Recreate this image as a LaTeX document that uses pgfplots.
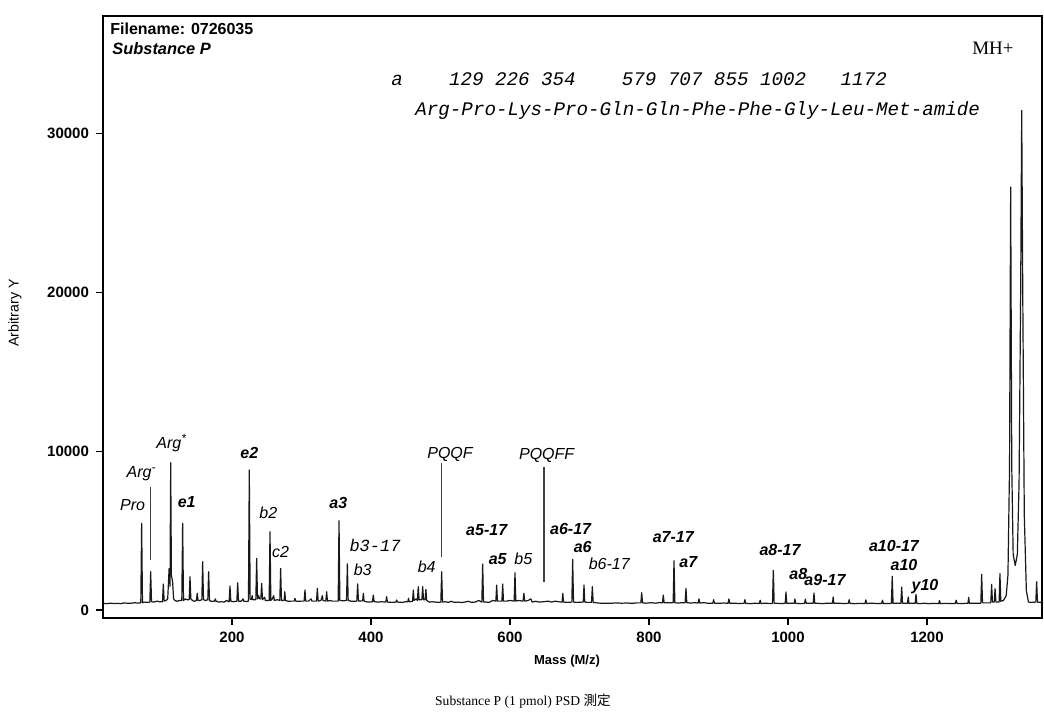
\documentclass[border=0pt]{standalone}
\usepackage{fontspec}
\setmainfont{Liberation Sans}
\newfontfamily\serif{Liberation Serif}
\newfontfamily\mono{Liberation Mono}
\newfontfamily\cjk{Noto Sans CJK JP}
\usepackage{pgfplots}
\pgfplotsset{compat=1.18}
\newcommand\fs[1]{\fontsize{#1}{#1}\selectfont}
\tikzset{
  lab/.style={font=\fs{8}\itshape, inner sep=0pt},
  labb/.style={font=\fs{8}\bfseries\itshape, inner sep=0pt},
  labm/.style={font=\mono\fs{8.5}\itshape, inner sep=0pt},
  lead/.style={black!75, line width=0.55pt}
}
\begin{document}
\begin{tikzpicture}
\begin{axis}[
  at={(51.5pt,-309pt)}, anchor=south west,
  width=469.5pt, height=301pt, scale only axis,
  xmin=14.4, xmax=1365.5, ymin=-503, ymax=37380,
  xtick={200,400,600,800,1000,1200},
  ytick={0,10000,20000,30000},
  scaled y ticks=false,
  tick align=outside, tick pos=left,
  major tick length=3.5pt,
  axis line style={line width=0.8pt},
  tick style={line width=0.6pt, black},
  /pgf/number format/1000 sep={},
  /pgf/number format/assume math mode=true,
  ticklabel style={font=\bfseries\fs{7.5}},
  clip=false,
]
\addplot[black!90, line width=0.6pt, line join=round] coordinates {
(15,420)(20,400)(25,430)(30,410)(35,420)(40,400)(45,450)(50,420)(55,430)(60,460)(64,440)(68.8,450)(70,5460)(71.2,460)(74,500)(78,480)(81.8,500)(83,2410)(84.2,520)(88,500)(92,560)(96,520)(100,520)(101.2,1640)(102.4,560)(105,600)(107.5,700)(109.5,2600)(110.8,1500)(111.8,9270)(112.8,2200)(114.5,1800)(116,700)(118,600)(121,550)(124,600)(127.8,600)(129,5460)(130.2,600)(133,700)(135,650)(138.4,650)(139.6,2100)(140.8,700)(143,600)(146,550)(148.8,600)(150,1050)(151.2,600)(154,600)(156.6,650)(157.8,3040)(159,650)(162,600)(165.2,650)(166.4,2410)(167.6,600)(170,550)(174.8,550)(176,700)(177.2,550)(181,500)(185,520)(189,500)(192,600)(195.9,520)(197.1,1510)(198.3,560)(202,520)(207,560)(208.2,1720)(209.4,550)(213,550)(216,700)(217,550)(221,540)(223.7,560)(224.9,8810)(226.1,700)(228,650)(229,900)(230,650)(234.3,650)(235.5,3250)(236.7,700)(238.5,900)(239.5,700)(241.5,700)(242.7,1680)(243.9,650)(247,800)(248,600)(253.5,600)(254.7,4930)(255.9,600)(258,700)(260,900)(261,600)(265,650)(268.8,600)(270,2620)(271.2,600)(275,600)(276,1150)(277,600)(281,550)(285,560)(289.4,560)(290.6,730)(291.8,560)(296,550)(300,560)(303.8,560)(305,1260)(306.2,560)(310,560)(314,700)(315,560)(320,560)(321.6,560)(322.8,1360)(324,560)(328,600)(330,900)(331,600)(335,560)(336.2,1150)(337.4,560)(341,600)(344,560)(352.8,560)(354,5620)(355.2,600)(360,580)(364.8,600)(366,2900)(367.2,600)(372,550)(379.6,560)(380.8,1640)(382,560)(388,580)(389,1050)(390,560)(395,500)(402.1,520)(403.3,940)(404.5,520)(410,500)(415,520)(421.3,500)(422.5,840)(423.7,500)(430,480)(436,500)(437,630)(438,500)(445,480)(450,520)(453,520)(454,740)(455,520)(459.8,550)(460.9,1260)(462,600)(465,700)(466.8,600)(468,1470)(469.2,650)(473.2,650)(474.4,1470)(475.6,650)(477.9,650)(479,1300)(480.1,600)(484,500)(488,520)(493,500)(497,480)(500.5,500)(501.7,2410)(502.9,500)(507,520)(512,480)(515,550)(520,480)(525,500)(530,470)(535,500)(540,550)(545,480)(550,500)(555,600)(559.5,500)(560.7,2900)(561.9,500)(566,500)(570,480)(575,600)(579.7,560)(580.8,1570)(582,560)(588.4,560)(589.5,1640)(590.6,560)(595,560)(600,600)(606,560)(607.2,2350)(608.4,560)(612,600)(618.8,560)(620,1050)(621.2,560)(626,600)(630,700)(632,500)(637,550)(642,500)(648,520)(655,560)(660,500)(665,560)(670,520)(675,500)(676,1050)(677,500)(683,480)(689,500)(690.2,3190)(691.4,500)(696,480)(705.4,500)(706.5,1570)(707.6,500)(712,480)(717.3,480)(718.5,1470)(719.7,480)(725,450)(730,430)(738,430)(745,420)(752,450)(760,430)(768,440)(776,420)(782,450)(788.3,450)(789.5,1090)(790.7,450)(796,430)(803,460)(810,430)(815,470)(819.4,450)(820.6,940)(821.8,450)(828,460)(834.8,460)(836,3100)(837.2,460)(842,440)(847,460)(852,460)(853.2,1360)(854.4,460)(860,440)(866,460)(870.8,440)(872,700)(873.2,440)(879,460)(886,420)(891.8,430)(893,650)(894.2,430)(900,420)(908,440)(913.8,420)(915,700)(916.2,420)(922,430)(930,410)(936.8,420)(938,650)(939.2,420)(946,400)(953,430)(958.8,410)(960,620)(961.2,410)(968,430)(975,410)(977.7,420)(978.9,2500)(980.1,420)(985,420)(990,410)(996,420)(997.1,1130)(998.2,420)(1004,430)(1009,420)(1010,700)(1011,420)(1018,400)(1023.8,420)(1025,680)(1026.2,420)(1030,420)(1036.3,420)(1037.4,1070)(1038.5,420)(1044,420)(1050,400)(1056,430)(1064,420)(1065,820)(1066,420)(1072,430)(1080,410)(1086.8,420)(1088,650)(1089.2,420)(1096,400)(1104,420)(1110.8,410)(1112,640)(1113.2,410)(1120,430)(1128,410)(1134.8,410)(1136,620)(1137.2,410)(1142,410)(1148.8,420)(1150,2120)(1151.2,420)(1156,420)(1162.4,420)(1163.6,1450)(1164.8,420)(1168,420)(1172,420)(1173,820)(1174,420)(1179,420)(1183,420)(1184.2,990)(1185.4,420)(1190,400)(1196,430)(1202,400)(1210,420)(1216.8,400)(1218,600)(1219.2,400)(1226,420)(1234,410)(1240.8,410)(1242,620)(1243.2,410)(1250,410)(1256,420)(1259,420)(1260,800)(1261,420)(1266,430)(1272,420)(1277.5,430)(1278.7,2250)(1279.9,450)(1285,450)(1291.8,450)(1293,1620)(1294.2,500)(1296.8,500)(1298,1340)(1299.2,500)(1303.8,500)(1305,2290)(1306.2,550)(1310,600)(1314,900)(1316.5,2200)(1318.8,9000)(1320.4,26620)(1322,9000)(1324,3500)(1327,2800)(1330,3500)(1332.5,8000)(1334.8,20000)(1336.3,31440)(1337.8,20000)(1340,6000)(1343,1200)(1346,500)(1350,480)(1356.6,500)(1357.8,1780)(1359,500)(1362,480)(1365.5,500)
};
% leader lines
\draw[lead] (axis cs:83,7760) -- (axis cs:83,3150);
\draw[lead] (axis cs:501.7,9230) -- (axis cs:501.7,3350);
\draw[lead] (axis cs:648.9,8980) -- (axis cs:648.9,1780);
% peak labels
\node[lab] at (axis cs:57.1,6610) {Pro};
\node[lab] at (axis cs:70,8600) {Arg\textsuperscript{-}};
\node[lab] at (axis cs:113.2,10490) {Arg\textsuperscript{*}};
\node[labb] at (axis cs:134.8,6820) {e1};
\node[labb] at (axis cs:224.9,9860) {e2};
\node[lab] at (axis cs:252.3,6090) {b2};
\node[lab] at (axis cs:270,3670) {c2};
\node[labb] at (axis cs:353,6750) {a3};
\node[labm] at (axis cs:405.8,4090) {b3-17};
\node[lab] at (axis cs:388,2520) {b3};
\node[lab] at (axis cs:480.1,2730) {b4};
\node[lab] at (axis cs:513.7,9820) {PQQF};
\node[labb] at (axis cs:566.5,5030) {a5-17};
\node[labb] at (axis cs:582.3,3190) {a5};
\node[lab] at (axis cs:619.2,3250) {b5};
\node[lab] at (axis cs:652.8,9750) {PQQFF};
\node[labb] at (axis cs:687.3,5080) {a6-17};
\node[labb] at (axis cs:704.6,3950) {a6};
\node[lab] at (axis cs:742.9,2940) {b6-17};
\node[labb] at (axis cs:835,4610) {a7-17};
\node[labb] at (axis cs:856.5,3040) {a7};
\node[labb] at (axis cs:988.5,3800) {a8-17};
\node[labb] at (axis cs:1014.8,2290) {a8};
\node[labb] at (axis cs:1053.2,1910) {a9-17};
\node[labb] at (axis cs:1152.5,4010) {a10-17};
\node[labb] at (axis cs:1166.9,2860) {a10};
\node[labb] at (axis cs:1197.1,1490) {y10};
\node[font=\serif\fs{9.5}, inner sep=0pt] at (axis cs:1295,35370) {MH+};
\end{axis}
% texts in picture coordinates (1px = 0.5pt, origin top left)
\node[anchor=west, inner sep=0pt, font=\bfseries\fs{8}] at (55pt,-14.2pt) {Filename: 0726035};
\node[anchor=west, inner sep=0pt, font=\bfseries\itshape\fs{8.2}] at (56pt,-24.2pt) {Substance P};
\node[anchor=west, inner sep=0pt, font=\mono\itshape\fs{9.6}] at (195.5pt,-39.5pt) {a~~~~129~226~354~~~~579~707~855~1002~~~1172};
\node[anchor=west, inner sep=0pt, font=\mono\itshape\fs{9.6}] at (207.5pt,-55.5pt) {Arg-Pro-Lys-Pro-Gln-Gln-Phe-Phe-Gly-Leu-Met-amide};
\node[font=\bfseries\fs{6.5}, inner sep=0pt] at (283.5pt,-330.5pt) {Mass (M/z)};
\node[font=\fs{7.1}, inner sep=0pt, rotate=90] at (7.5pt,-156.5pt) {Arbitrary Y};
\node[font=\serif\fs{6.8}, inner sep=0pt] at (261.5pt,-350.5pt) {Substance P (1 pmol) PSD {\cjk 測定}};
\pgfresetboundingbox
\path[use as bounding box] (0,0) rectangle (522pt,-359.5pt);
\end{tikzpicture}
\end{document}
